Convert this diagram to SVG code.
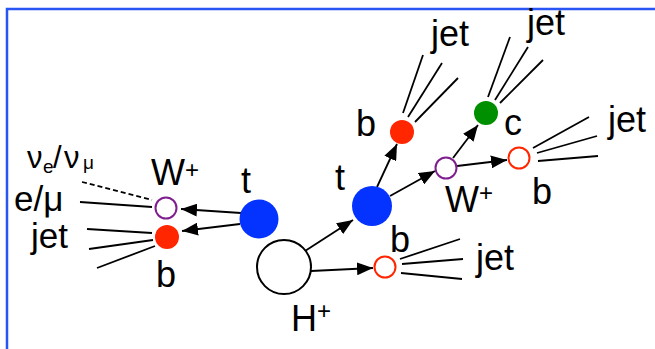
<svg xmlns="http://www.w3.org/2000/svg" width="655" height="349" viewBox="0 0 655 349">
  <defs>
    <marker id="arrow" markerUnits="userSpaceOnUse" markerWidth="16" markerHeight="13" refX="16" refY="6.5" orient="auto">
      <path d="M0,0 L16,6.5 L0,13 z" fill="#000"/>
    </marker>
    <style>
      .lbl { font-family: "Liberation Sans", Arial, sans-serif; font-size: 36px; fill: #000; }
      .sup { font-family: "Liberation Sans", Arial, sans-serif; font-size: 24px; fill: #000; }
      .sub { font-size: 19px; }
      .arr { stroke: #000; stroke-width: 1.8; fill: none; marker-end: url(#arrow); }
      .jet { stroke: #000; stroke-width: 1.8; fill: none; }
      .top { fill: #0433ff; }
      .bq { fill: #ff2600; }
      .bo { fill: #fff; stroke: #ff2600; stroke-width: 2; }
      .w { fill: #fff; stroke: #7f1f8f; stroke-width: 2; }
    </style>
  </defs>

  <!-- frame -->
  <rect x="7" y="9" width="680" height="380" fill="#fff" stroke="#2a55f5" stroke-width="2.5"/>

  <!-- connectors: decay arrows and jet cones -->
  <g id="connectors">
    <line class="arr" x1="241" y1="213" x2="181" y2="209"/>
    <line class="arr" x1="240" y1="224" x2="182" y2="231"/>
    <line class="arr" x1="305" y1="251" x2="353" y2="220"/>
    <line class="arr" x1="311" y1="271" x2="373" y2="268"/>
    <line class="arr" x1="377" y1="187" x2="397" y2="144"/>
    <line class="arr" x1="390" y1="196" x2="435" y2="171"/>
    <line class="arr" x1="453" y1="158" x2="478" y2="125"/>
    <line class="arr" x1="457" y1="166" x2="507" y2="160"/>

    <!-- left W decay -->
    <line class="jet" x1="80" y1="202" x2="152" y2="207"/>
    <line class="jet" x1="82" y1="182" x2="152" y2="200" stroke-dasharray="5,3"/>
    <!-- left b jet -->
    <line class="jet" x1="87" y1="229" x2="152" y2="233"/>
    <line class="jet" x1="89" y1="249" x2="153" y2="240"/>
    <line class="jet" x1="97" y1="268" x2="155" y2="246"/>
    <!-- upper b jet -->
    <line class="jet" x1="403" y1="113" x2="423" y2="55"/>
    <line class="jet" x1="408" y1="117" x2="442" y2="63"/>
    <line class="jet" x1="415" y1="122" x2="458" y2="78"/>
    <!-- c jet -->
    <line class="jet" x1="488" y1="97" x2="510" y2="37"/>
    <line class="jet" x1="495" y1="100" x2="528" y2="47"/>
    <line class="jet" x1="500" y1="103" x2="543" y2="60"/>
    <!-- right b jet -->
    <line class="jet" x1="533" y1="148" x2="589" y2="117"/>
    <line class="jet" x1="537" y1="153" x2="597" y2="136"/>
    <line class="jet" x1="538" y1="161" x2="598" y2="156"/>
    <!-- lower b jet -->
    <line class="jet" x1="400" y1="259" x2="460" y2="239"/>
    <line class="jet" x1="402" y1="264" x2="463" y2="259"/>
    <line class="jet" x1="401" y1="273" x2="462" y2="279"/>
  </g>

  <g id="H">
    <circle cx="284" cy="267" r="27" fill="#fff" stroke="#000" stroke-width="2"/>
    <text class="lbl" x="291" y="331">H</text>
    <text class="sup" x="317" y="319">+</text>
  </g>

  <g id="t-left">
    <circle class="top" cx="259" cy="219" r="19.5"/>
    <text class="lbl" x="241" y="193">t</text>
  </g>

  <g id="t-right">
    <circle class="top" cx="372" cy="206" r="20"/>
    <text class="lbl" x="335" y="190">t</text>
  </g>

  <g id="W-left">
    <circle class="w" cx="166" cy="208" r="10.5"/>
    <text class="lbl" x="151" y="185">W</text>
    <text class="sup" x="185" y="178">+</text>
  </g>

  <g id="b-left">
    <circle class="bq" cx="167" cy="237" r="12"/>
    <text class="lbl" x="156" y="287">b</text>
  </g>

  <g id="lep-left">
    <text class="lbl" style="font-size:31px"><tspan x="27" y="168">ν</tspan><tspan class="sub" x="43" y="173">e</tspan><tspan x="53" y="168">/</tspan><tspan x="64" y="168">ν</tspan><tspan class="sub" x="83" y="169">μ</tspan></text>
    <text class="lbl" style="font-size:35px" x="14" y="211">e/μ</text>
    <text class="lbl" style="font-size:35px" x="31" y="248">jet</text>
  </g>

  <g id="b-top">
    <circle class="bq" cx="402" cy="132" r="12"/>
    <text class="lbl" x="356" y="136">b</text>
    <text class="lbl" x="431" y="46">jet</text>
  </g>

  <g id="W-right">
    <circle class="w" cx="446" cy="168" r="10.5"/>
    <text class="lbl" x="445" y="212">W</text>
    <text class="sup" x="479" y="201">+</text>
  </g>

  <g id="c">
    <circle cx="486" cy="113" r="12" fill="#008f00"/>
    <text class="lbl" x="504" y="135">c</text>
    <text class="lbl" x="527" y="35">jet</text>
  </g>

  <g id="b-right">
    <circle class="bo" cx="519" cy="158" r="10.5"/>
    <text class="lbl" x="532" y="204">b</text>
    <text class="lbl" x="608" y="132">jet</text>
  </g>

  <g id="b-bottom">
    <circle class="bo" cx="385" cy="267" r="10.5"/>
    <text class="lbl" x="390" y="252">b</text>
    <text class="lbl" x="476" y="270">jet</text>
  </g>
</svg>
